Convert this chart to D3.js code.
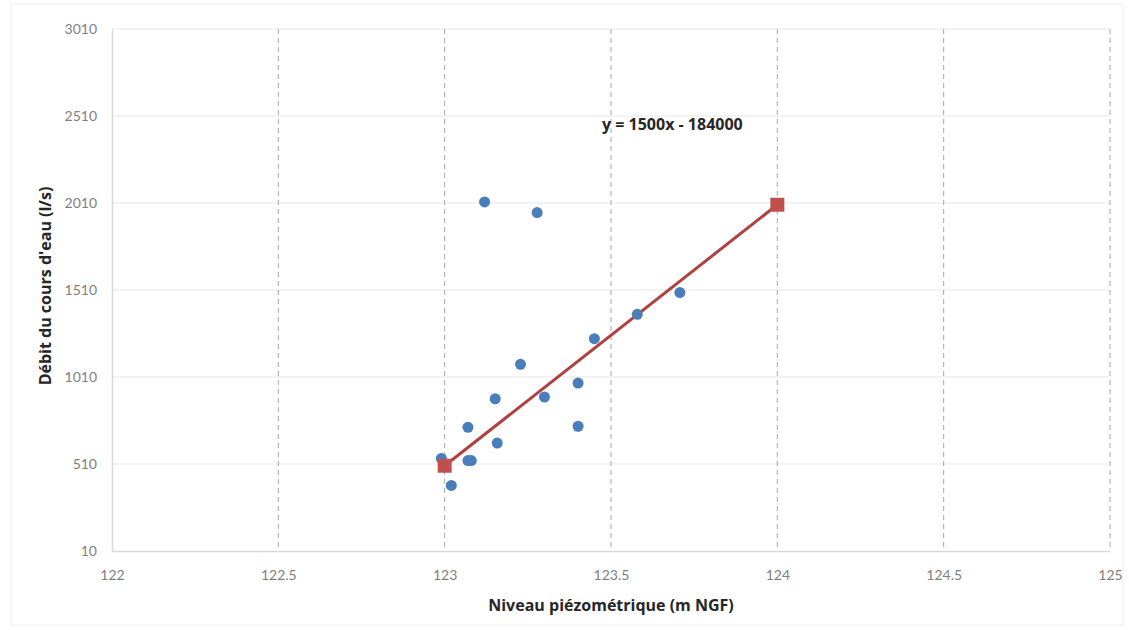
<!DOCTYPE html>
<html><head><meta charset="utf-8">
<script src="https://cdn.jsdelivr.net/npm/d3@7"></script>
<style>body{margin:0;background:#fff}svg{display:block}</style>
</head><body>
<svg id="c" width="1129" height="630"></svg>
<script>
const xTicks = [122, 122.5, 123, 123.5, 124, 124.5, 125];
const yTicks = [10, 510, 1010, 1510, 2010, 2510, 3010];
const obsX = [123.12, 123.278, 123.707, 123.579, 123.45, 123.228, 123.401, 123.152, 123.3, 123.07, 123.401, 123.158, 123.07, 123.08, 122.99, 123.02];
const obsY = [2016, 1955, 1495, 1370, 1230, 1083, 975, 885, 895, 721, 727, 630, 530, 530, 542, 387];
const fitX = [123, 124];
const fitY = [500, 2000];
const equation = "y = 1500x - 184000";
const xTitle = "Niveau piézométrique (m NGF)";
const yTitle = "Débit du cours d'eau (l/s)";

const svg = d3.select("#c");
const L = 112, R = 1110, T = 29, B = 551;
const x = d3.scaleLinear().domain([122, 125]).range([L, R]);
const y = d3.scaleLinear().domain([10, 3010]).range([B, T]);
const font = "Lato, 'Open Sans', sans-serif";
const tfont = "'Open Sans', Lato, sans-serif";

svg.append("rect").attr("x", 11).attr("y", 4).attr("width", 1112).attr("height", 621)
  .attr("fill", "none").attr("stroke", "#eeeeee");

// horizontal gridlines
svg.append("g").selectAll("line").data(yTicks.slice(1)).join("line")
  .attr("x1", L).attr("x2", R).attr("y1", d => y(d)).attr("y2", d => y(d))
  .attr("stroke", "#e8e8e8").attr("stroke-width", 1.2);
// vertical dashed gridlines
svg.append("g").selectAll("line").data(xTicks.slice(1)).join("line")
  .attr("x1", d => x(d)).attr("x2", d => x(d)).attr("y1", T).attr("y2", B)
  .attr("stroke", "#a6a6a6").attr("stroke-width", 1).attr("stroke-dasharray", "5,4");

// axes
const xa = svg.append("g").attr("transform", `translate(0,${B})`)
  .call(d3.axisBottom(x).tickValues(xTicks).tickSize(0).tickPadding(19).tickFormat(d => String(d)));
const ya = svg.append("g").attr("transform", `translate(${L},0)`)
  .call(d3.axisLeft(y).tickValues(yTicks).tickSize(0).tickPadding(15).tickFormat(d => String(d)));
[xa, ya].forEach(a => {
  a.select(".domain").attr("stroke", "#d9d9d9").attr("stroke-width", 1.5);
  a.selectAll("text").attr("fill", "#808080").style("font-family", font).style("font-size", "14px");
});

// fit line
svg.append("line").attr("x1", x(fitX[0])).attr("y1", y(fitY[0])).attr("x2", x(fitX[1])).attr("y2", y(fitY[1]))
  .attr("stroke", "#b0413e").attr("stroke-width", 3);

// observations
svg.append("g").selectAll("circle").data(obsX.map((v, i) => [v, obsY[i]])).join("circle")
  .attr("cx", d => x(d[0])).attr("cy", d => y(d[1])).attr("r", 5.5).attr("fill", "#4a7ebb");

// fit squares
svg.append("g").selectAll("rect").data(fitX.map((v, i) => [v, fitY[i]])).join("rect")
  .attr("x", d => x(d[0]) - 7).attr("y", d => y(d[1]) - 7).attr("width", 14).attr("height", 14)
  .attr("fill", "#c0504d");

// equation
svg.append("text").attr("x", 602).attr("y", 130).text(equation)
  .style("font-family", tfont).style("font-size", "16px").style("font-weight", "bold").attr("fill", "#262626");

// titles
svg.append("text").attr("x", 611).attr("y", 611).attr("text-anchor", "middle").text(xTitle)
  .style("font-family", tfont).style("font-size", "16px").style("font-weight", "bold").attr("fill", "#262626");
svg.append("text").attr("transform", `translate(51,286) rotate(-90)`).attr("text-anchor", "middle").text(yTitle)
  .style("font-family", tfont).style("font-size", "16px").style("font-weight", "bold").attr("fill", "#262626");
</script>
</body></html>
